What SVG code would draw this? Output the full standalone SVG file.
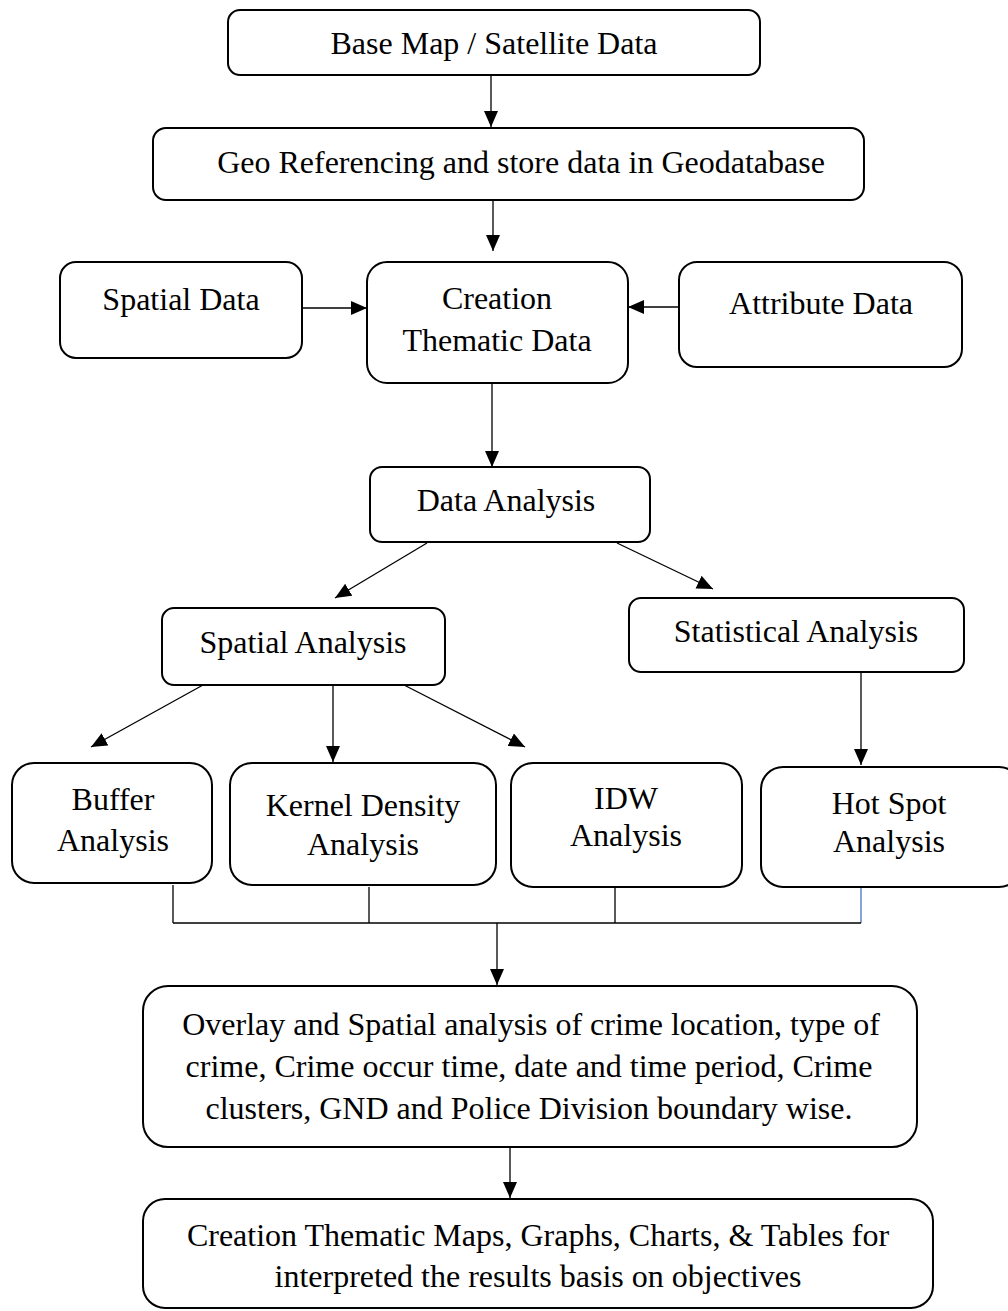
<svg xmlns="http://www.w3.org/2000/svg" width="1008" height="1311" viewBox="0 0 1008 1311">
<style>
.box{fill:#fff;stroke:#000;stroke-width:2}
.t{font-family:"Liberation Serif","Times New Roman",serif;font-size:32px;fill:#000;text-anchor:middle}
.c{stroke:#000;stroke-width:1.3;fill:none}
.b{stroke:#4472C4;stroke-width:1.3;fill:none}
</style>
<defs>
<marker id="ah" markerUnits="userSpaceOnUse" markerWidth="18" markerHeight="16" refX="16" refY="7" orient="auto">
<path d="M0,0 L16,7 L0,14 z" fill="#000"/>
</marker>
</defs>
<rect width="1008" height="1311" fill="#fff"/>
<g id="connectors">
<line class="c" x1="491" y1="75" x2="491" y2="127" marker-end="url(#ah)"/>
<line class="c" x1="493" y1="200" x2="493" y2="251" marker-end="url(#ah)"/>
<line class="c" x1="302" y1="308" x2="367" y2="308" marker-end="url(#ah)"/>
<line class="c" x1="678" y1="307" x2="628" y2="307" marker-end="url(#ah)"/>
<line class="c" x1="492" y1="383" x2="492" y2="467" marker-end="url(#ah)"/>
<line class="c" x1="427" y1="543" x2="335" y2="598" marker-end="url(#ah)"/>
<line class="c" x1="617" y1="543" x2="713" y2="589" marker-end="url(#ah)"/>
<line class="c" x1="203" y1="685" x2="91" y2="747" marker-end="url(#ah)"/>
<line class="c" x1="333" y1="685" x2="333" y2="762" marker-end="url(#ah)"/>
<line class="c" x1="404" y1="685" x2="525" y2="747" marker-end="url(#ah)"/>
<line class="c" x1="861" y1="672" x2="861" y2="765" marker-end="url(#ah)"/>
<line class="c" x1="173" y1="885" x2="173" y2="923"/>
<line class="c" x1="369" y1="887" x2="369" y2="923"/>
<line class="c" x1="615" y1="888" x2="615" y2="923"/>
<line class="b" x1="861" y1="888" x2="861" y2="923"/>
<line class="c" x1="173" y1="923" x2="615" y2="923"/>
<line class="c" x1="615" y1="923" x2="861" y2="923" stroke="#2f3f5f"/>
<line class="c" x1="497" y1="923" x2="497" y2="985" marker-end="url(#ah)"/>
<line class="c" x1="510" y1="1147" x2="510" y2="1198" marker-end="url(#ah)"/>
</g>
<g id="n1"><rect class="box" x="228" y="10" width="532" height="65" rx="12"/><text class="t" x="494" y="54">Base Map / Satellite Data</text></g>
<g id="n2"><rect class="box" x="153" y="128" width="711" height="72" rx="13"/><text class="t" x="521" y="173">Geo Referencing and store data in Geodatabase</text></g>
<g id="n3"><rect class="box" x="60" y="262" width="242" height="96" rx="16"/><text class="t" x="181" y="310">Spatial Data</text></g>
<g id="n4"><rect class="box" x="367" y="262" width="261" height="121" rx="20"/><text class="t" x="497" y="309">Creation</text><text class="t" x="497" y="351">Thematic Data</text></g>
<g id="n5"><rect class="box" x="679" y="262" width="283" height="105" rx="18"/><text class="t" x="821" y="314">Attribute Data</text></g>
<g id="n6"><rect class="box" x="370" y="467" width="280" height="75" rx="12"/><text class="t" x="506" y="511">Data Analysis</text></g>
<g id="n7"><rect class="box" x="162" y="608" width="283" height="77" rx="12"/><text class="t" x="303" y="653">Spatial Analysis</text></g>
<g id="n8"><rect class="box" x="629" y="598" width="335" height="74" rx="12"/><text class="t" x="796" y="642">Statistical Analysis</text></g>
<g id="n9"><rect class="box" x="12" y="763" width="200" height="120" rx="22"/><text class="t" x="113" y="810">Buffer</text><text class="t" x="113" y="851">Analysis</text></g>
<g id="n10"><rect class="box" x="230" y="763" width="266" height="122" rx="22"/><text class="t" x="363" y="816">Kernel Density</text><text class="t" x="363" y="855">Analysis</text></g>
<g id="n11"><rect class="box" x="511" y="763" width="231" height="124" rx="22"/><text class="t" x="626" y="809">IDW</text><text class="t" x="626" y="846">Analysis</text></g>
<g id="n12"><rect class="box" x="761" y="767" width="260" height="120" rx="22"/><text class="t" x="889" y="814">Hot Spot</text><text class="t" x="889" y="852">Analysis</text></g>
<g id="n13"><rect class="box" x="143" y="986" width="774" height="161" rx="25"/><text class="t" x="531" y="1035">Overlay and Spatial analysis of crime location, type of</text><text class="t" x="529" y="1077">crime, Crime occur time, date and time period, Crime</text><text class="t" x="529" y="1119">clusters, GND and Police Division boundary wise.</text></g>
<g id="n14"><rect class="box" x="143" y="1199" width="790" height="109" rx="22"/><text class="t" x="538" y="1246">Creation Thematic Maps, Graphs, Charts, &amp; Tables for</text><text class="t" x="538" y="1287">interpreted the results basis on objectives</text></g>
</svg>
